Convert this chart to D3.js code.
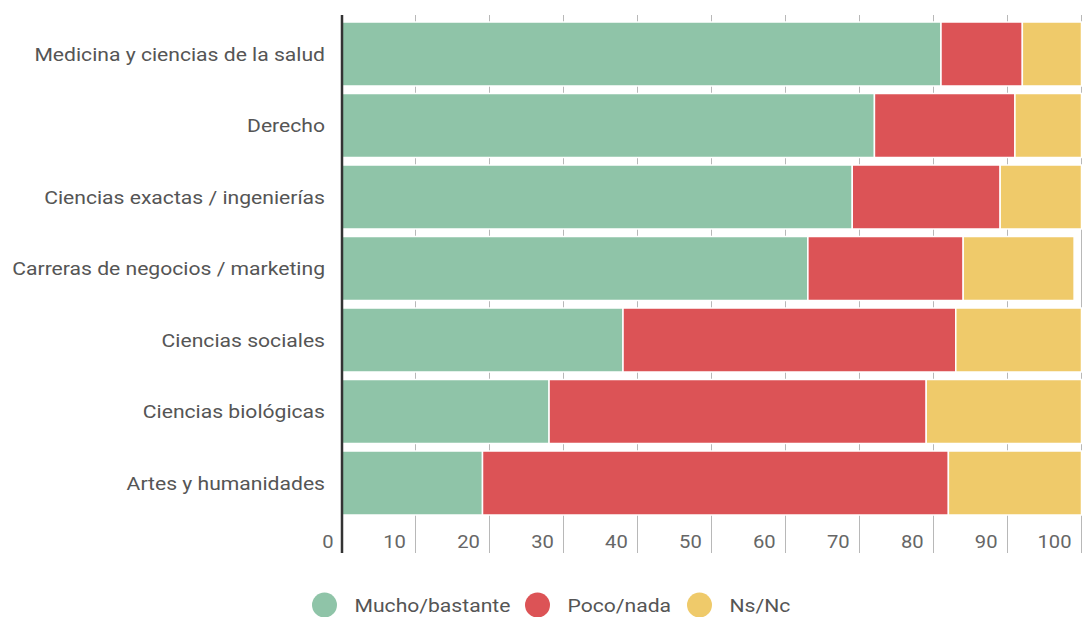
<!DOCTYPE html>
<html>
<head>
<meta charset="utf-8">
<script src="https://cdn.jsdelivr.net/npm/d3@7"></script>
<style>
  html, body { margin: 0; padding: 0; background: #fff; }
  svg { display: block; font-family: Roboto, "Noto Sans", sans-serif; }
</style>
</head>
<body>
<svg id="chart" width="1082" height="617"></svg>
<script>
const categories = [
  "Medicina y ciencias de la salud",
  "Derecho",
  "Ciencias exactas / ingenierías",
  "Carreras de negocios / marketing",
  "Ciencias sociales",
  "Ciencias biológicas",
  "Artes y humanidades"
];
const seriesNames = ["Mucho/bastante", "Poco/nada", "Ns/Nc"];
const mucho = [81, 72, 69, 63, 38, 28, 19];
const poco  = [11, 19, 20, 21, 45, 51, 63];
const nsnc  = [8, 9, 11, 15, 17, 21, 18];
const tickValues = [0, 10, 20, 30, 40, 50, 60, 70, 80, 90, 100];
const colors = ["#8fc4a8", "#dc5356", "#efca6a"];

const svg = d3.select("#chart");
const plotLeft = 342, plotRight = 1081.5, plotTop = 15, plotBottom = 553;
const barTop = 22, barBottom = 515;

const x = d3.scaleLinear().domain([0, 100]).range([plotLeft, plotRight]);
const y = d3.scaleBand().domain(categories).range([barTop, barBottom]).paddingInner(0.105).paddingOuter(0);

// gridlines
svg.append("g").selectAll("line").data(tickValues.slice(1)).join("line")
  .attr("x1", d => Math.round(x(d)) - 0.5).attr("x2", d => Math.round(x(d)) - 0.5)
  .attr("y1", plotTop).attr("y2", plotBottom)
  .attr("stroke", "#b8b8b8").attr("stroke-width", 1);

// stacked data
const rows = categories.map((c, i) => ({cat: c, v: [mucho[i], poco[i], nsnc[i]]}));
const stack = d3.stack().keys([0, 1, 2]).value((d, k) => d.v[k]);
const layers = stack(rows);

svg.append("g").selectAll("g").data(layers).join("g")
  .attr("fill", (d, i) => colors[i])
  .selectAll("rect").data(d => d).join("rect")
  .attr("x", d => x(d[0]))
  .attr("width", d => x(d[1]) - x(d[0]))
  .attr("y", d => y(d.data.cat))
  .attr("height", y.bandwidth())
  .attr("stroke", "#fff").attr("stroke-width", 1.5);

// axis line
svg.append("line")
  .attr("x1", plotLeft).attr("x2", plotLeft).attr("y1", plotTop).attr("y2", plotBottom)
  .attr("stroke", "#333").attr("stroke-width", 2.5);

// category labels (slightly widened glyphs as in the reference)
svg.append("g").selectAll("text").data(categories).join("text")
  .attr("transform", d => `translate(325,${y(d) + y.bandwidth() / 2}) scale(1.13,1)`)
  .attr("text-anchor", "end")
  .attr("dominant-baseline", "central")
  .attr("fill", "#555")
  .attr("font-size", 18.7)
  .text(d => d);

// tick labels
svg.append("g").selectAll("text").data(tickValues).join("text")
  .attr("transform", d => `translate(${d === 0 ? x(d) - 8.5 : x(d) - 10},542) scale(1.08,1)`)
  .attr("text-anchor", "end")
  .attr("dominant-baseline", "central")
  .attr("fill", "#666")
  .attr("font-size", 18.7)
  .text(d => d);

// legend
const legendX = [324.5, 537.5, 699.5];
const lg = svg.append("g").selectAll("g").data(seriesNames).join("g")
  .attr("transform", (d, i) => `translate(${legendX[i]},605)`);
lg.append("circle").attr("r", 12.5).attr("fill", (d, i) => colors[i]);
lg.append("text").attr("transform", "translate(30,0) scale(1.13,1)").attr("dominant-baseline", "central")
  .attr("fill", "#555").attr("font-size", 18.7).text(d => d);
</script>
</body>
</html>
